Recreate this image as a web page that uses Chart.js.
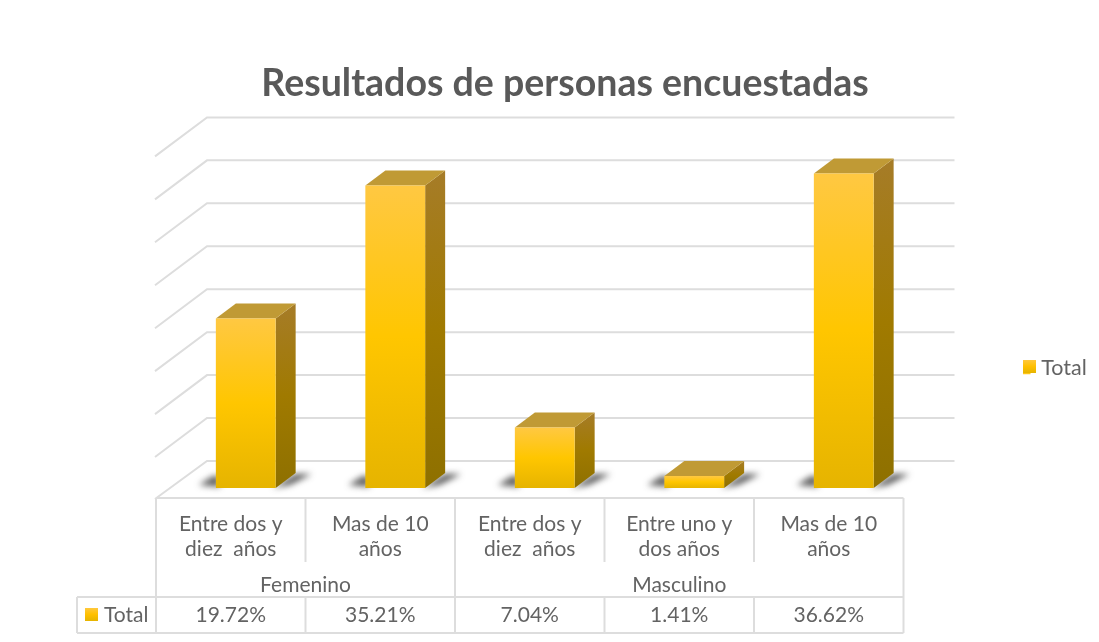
<!DOCTYPE html>
<html><head><meta charset="utf-8">
<style>html,body{margin:0;padding:0;background:#fff}canvas{display:block;filter:blur(0.55px)}</style>
<script src="https://cdn.jsdelivr.net/npm/chart.js@4"></script>
</head><body><canvas id="c" width="1099" height="642"></canvas>
<script>
const groups = ["Femenino", "Masculino"];
const groupSpans = [2, 3];
const categories = [["Entre dos y","diez  años"],["Mas de 10","años"],["Entre dos y","diez  años"],["Entre uno y","dos años"],["Mas de 10","años"]];
const seriesName = "Total";
const values = [19.72, 35.21, 7.04, 1.41, 36.62];
const FONT = "Lato";
const TXT = "#636363";
const GRID = "#DDDDDD";
const BACK = {dx: 36, dy: -27};
const FRONT = {dx: -16, dy: 12};
const TABLE_SHIFT = -15;
const DEPTH = {dx: 20, dy: -15};
const KEY_STOPS = [[0,"#FFC83D"],[0.5,"#FFC000"],[1,"#E6B400"]];

function poly(ctx, pts, fill){
  ctx.beginPath();
  pts.forEach((p,i)=> i?ctx.lineTo(p[0],p[1]):ctx.moveTo(p[0],p[1]));
  ctx.closePath(); ctx.fillStyle=fill; ctx.fill();
}
function vGrad(ctx, y0, y1, stops){
  const g=ctx.createLinearGradient(0,y0,0,y1);
  stops.forEach(s=>g.addColorStop(s[0],s[1]));
  return g;
}
const threeD = {
  id:"threeD",
  afterLayout(chart){
    const t=chart.titleBlock; t.left=0; t.right=1130; t.top=61; t.bottom=t.top+t.height;
    const l=chart.legend; l.left=1019; l.right=l.left+l.width; l.top=353; l.bottom=l.top+l.height;
  },
  beforeDatasetsDraw(chart){
    const {ctx,chartArea:a,scales:{x,y}}=chart;
    ctx.save();
    ctx.strokeStyle=GRID; ctx.lineWidth=2;
    y.ticks.forEach(t=>{
      const py=y.getPixelForValue(t.value);
      if(t.value===0) return;
      ctx.beginPath();
      ctx.moveTo(a.left+FRONT.dx, py+FRONT.dy);
      ctx.lineTo(a.left+BACK.dx, py+BACK.dy);
      ctx.lineTo(a.right+BACK.dx, py+BACK.dy);
      ctx.stroke();
    });
    const y0=y.getPixelForValue(0);
    ctx.beginPath();
    ctx.moveTo(a.left+FRONT.dx, y0+FRONT.dy-1);
    ctx.lineTo(a.left+BACK.dx, y0+BACK.dy);
    ctx.lineTo(a.right+BACK.dx, y0+BACK.dy);
    ctx.stroke();
    const meta=chart.getDatasetMeta(0);
    meta.data.forEach(b=>{
      const hw=b.width/2, L=b.x-hw, R=b.x+hw, T=b.y, B=b.base;
      ctx.save();
      ctx.filter="blur(3px)";
      poly(ctx,[[R-3,B],[R+DEPTH.dx,B+DEPTH.dy+1],[R+36,B-14],[R+14,B-3]],"rgba(45,45,45,0.8)");
      poly(ctx,[[L-17,B-3],[L-3,B-12],[L+4,B-12],[L+4,B-1]],"rgba(45,45,45,0.75)");
      ctx.restore();
      const top=T+DEPTH.dy, bh=B+DEPTH.dy;
      poly(ctx,[[R,T],[R+DEPTH.dx,top],[R+DEPTH.dx,bh],[R,B]],
        vGrad(ctx,top,B,[[0,"#A67C28"],[0.5,"#A07A00"],[1,"#8E7000"]]));
      poly(ctx,[[L,T],[L+DEPTH.dx,top],[R+DEPTH.dx,top],[R,T]],"#C09A35");
    });
    ctx.restore();
  },
  afterDraw(chart){
    const {ctx,scales:{x}}=chart;
    const cx=i=>x.getPixelForValue(i)+TABLE_SHIFT;
    const step=x.getPixelForValue(1)-x.getPixelForValue(0);
    const edge=i=>cx(i)-step/2;
    const top=498, catB=562, rowT=597, rowB=633;
    ctx.save();
    ctx.strokeStyle=GRID; ctx.lineWidth=2;
    const line=(a,b,c,d)=>{ctx.beginPath();ctx.moveTo(a,b);ctx.lineTo(c,d);ctx.stroke();};
    const n=categories.length;
    line(edge(0),top,edge(n),top);
    line(77,rowT,edge(n),rowT);
    line(77,rowB,edge(n),rowB);
    line(77,rowT,77,rowB);
    for(let i=0;i<=n;i++) line(edge(i),top,edge(i),rowB);
    let idx=0;
    ctx.fillStyle="#fff";
    groupSpans.forEach(s=>{
      for(let k=1;k<s;k++) ctx.fillRect(edge(idx+k)-1.5,catB,3,rowT-catB-1);
      idx+=s;
    });
    ctx.fillStyle=TXT; ctx.textAlign="center"; ctx.textBaseline="middle";
    ctx.font="21px "+FONT;
    categories.forEach((c,i)=>{
      c.forEach((s,j)=>ctx.fillText(s,cx(i),524+j*25));
      ctx.fillText(values[i].toFixed(2)+"%",cx(i),615);
    });
    idx=0;
    groups.forEach((g,i)=>{
      const s=groupSpans[i];
      ctx.fillText(g,(edge(idx)+edge(idx+s))/2,585);
      idx+=s;
    });
    ctx.textAlign="left";
    ctx.fillText(seriesName,104,615);
    ctx.fillStyle=vGrad(ctx,608,621,KEY_STOPS);
    ctx.fillRect(85,608,13,13);
    ctx.fillStyle=vGrad(ctx,360,373,KEY_STOPS);
    ctx.fillRect(1023,360,13,13);
    ctx.restore();
  }
};
new Chart(document.getElementById("c"),{
  type:"bar",
  data:{labels:categories,datasets:[{
    label:seriesName,
    data:values,
    borderWidth:0,
    barPercentage:0.4,
    categoryPercentage:1,
    backgroundColor(ctx2){
      if(ctx2.dataIndex===undefined||!ctx2.chart.chartArea) return "#F7BE05";
      const y=ctx2.chart.scales.y;
      const T=y.getPixelForValue(values[ctx2.dataIndex]), B=y.getPixelForValue(0);
      return vGrad(ctx2.chart.ctx,T,B,[[0,"#FFC842"],[0.5,"#FFC600"],[1,"#E6B400"]]);
    }
  }]},
  options:{
    responsive:false,
    animation:false,
    layout:{padding:{left:171,right:180.5,bottom:154,top:99.4}},
    scales:{
      x:{display:false,grid:{display:false}},
      y:{display:false,min:0,max:40,ticks:{stepSize:5},grid:{display:false}}
    },
    plugins:{
      title:{display:true,text:"Resultados de personas encuestadas",color:"#595959",
        font:{family:FONT,size:37.5,weight:"bold"},padding:0},
      legend:{position:"chartArea",align:"start",
        labels:{color:TXT,font:{family:FONT,size:21.5},boxWidth:7.5,boxHeight:13,padding:4}},
      tooltip:{enabled:false}
    }
  },
  plugins:[threeD]
});
</script></body></html>
